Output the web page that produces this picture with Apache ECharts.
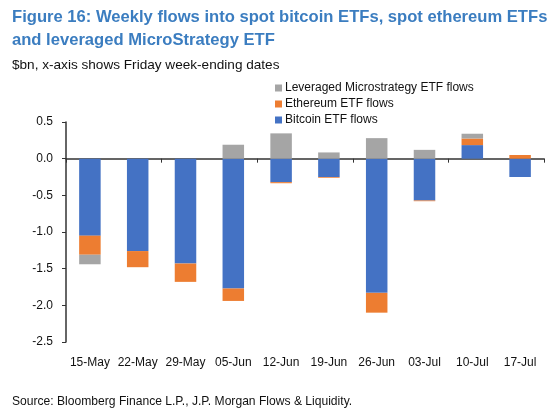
<!DOCTYPE html>
<html>
<head>
<meta charset="utf-8">
<script src="https://cdn.jsdelivr.net/npm/echarts@6/dist/echarts.min.js"></script>
<style>
  html, body { margin: 0; padding: 0; background: #fff; }
  #chart { width: 557px; height: 416px; }
</style>
</head>
<body>
<div id="chart"></div>
<script>
// weekly flows, $bn
var weeks = ["15-May", "22-May", "29-May", "05-Jun", "12-Jun", "19-Jun", "26-Jun", "03-Jul", "10-Jul", "17-Jul"];
var btcFlows = [-1.05, -1.26, -1.43, -1.77, -0.32, -0.25, -1.83, -0.57, 0.185, -0.25];
var ethFlows = [-0.26, -0.22, -0.25, -0.17, -0.015, -0.01, -0.27, -0.01, 0.09, 0.05];
var mstrFlows = [-0.13, 0, 0, 0.19, 0.345, 0.085, 0.28, 0.12, 0.065, 0];
var yTicks = [0.5, 0.0, -0.5, -1.0, -1.5, -2.0, -2.5];

var myChart = echarts.init(document.getElementById("chart"));

var font = "Liberation Sans, Arial, sans-serif";

var option = {
  animation: false,
  backgroundColor: "#fff",
  title: [
    {
      text: "Figure 16: Weekly flows into spot bitcoin ETFs, spot ethereum ETFs\nand leveraged MicroStrategy ETF",
      left: 7, top: 1,
      textStyle: { color: "#3B7DC0", fontSize: 16.6, fontWeight: "bold", fontFamily: font, lineHeight: 23 }
    },
    {
      text: "$bn, x-axis shows Friday week-ending dates",
      left: 7, top: 53,
      textStyle: { color: "#111", fontSize: 13.6, fontWeight: "normal", fontFamily: font }
    },
    {
      text: "Source: Bloomberg Finance L.P., J.P. Morgan Flows & Liquidity.",
      left: 7, top: 391,
      textStyle: { color: "#111", fontSize: 12.1, fontWeight: "normal", fontFamily: font }
    }
  ],
  legend: {
    data: ["Leveraged Microstrategy ETF flows", "Ethereum ETF flows", "Bitcoin ETF flows"],
    orient: "vertical",
    left: 270, top: 77,
    itemWidth: 7, itemHeight: 7, itemGap: 4,
    icon: "rect",
    textStyle: { color: "#111", fontSize: 12, fontFamily: font, padding: [0, 0, 0, -2] }
  },
  grid: { left: 66, right: 13, top: 122, bottom: 74 },
  xAxis: [
    {
      type: "category",
      data: weeks,
      axisLine: { onZero: true, lineStyle: { color: "#333", width: 1.5 } },
      axisTick: { show: true, length: 4, inside: false, lineStyle: { color: "#333" } },
      axisLabel: { show: false }
    },
    {
      type: "category",
      data: weeks,
      position: "bottom",
      axisLine: { show: false },
      axisTick: { show: false },
      axisLabel: { color: "#111", fontSize: 12, fontFamily: font, margin: 15, interval: 0 }
    }
  ],
  yAxis: {
    type: "value",
    min: -2.5, max: 0.5, interval: 0.5,
    splitLine: { show: false },
    axisLine: { show: true, lineStyle: { color: "#333", width: 1.5 } },
    axisTick: { show: true, length: 4, lineStyle: { color: "#333" } },
    axisLabel: {
      color: "#111", fontSize: 12, fontFamily: font, margin: 13,
      formatter: function (v) { return v.toFixed(1); }
    }
  },
  series: [
    {
      name: "Bitcoin ETF flows", type: "bar", stack: "flows", data: btcFlows,
      barWidth: "45%", itemStyle: { color: "#4472C4" }
    },
    {
      name: "Ethereum ETF flows", type: "bar", stack: "flows", data: ethFlows,
      itemStyle: { color: "#ED7D31" }
    },
    {
      name: "Leveraged Microstrategy ETF flows", type: "bar", stack: "flows", data: mstrFlows,
      itemStyle: { color: "#A5A5A5" }
    }
  ]
};

myChart.setOption(option);
</script>
</body>
</html>
